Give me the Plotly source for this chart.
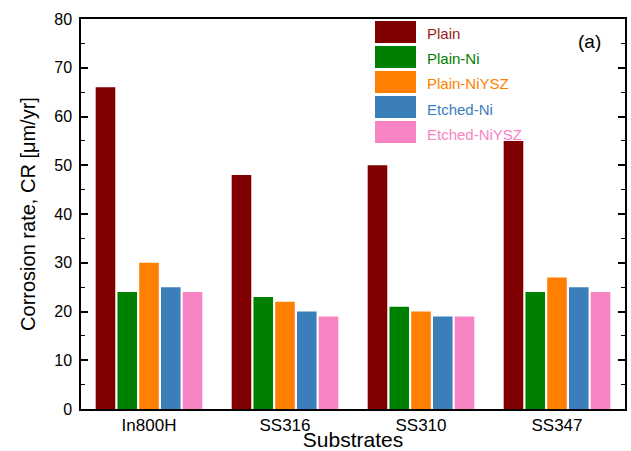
import plotly.graph_objects as go

substrates = ["In800H", "SS316", "SS310", "SS347"]
series_names = ["Plain", "Plain-Ni", "Plain-NiYSZ", "Etched-Ni", "Etched-NiYSZ"]
plain = [66, 48, 50, 55]
plain_ni = [24, 23, 21, 24]
plain_niysz = [30, 22, 20, 27]
etched_ni = [25, 20, 19, 25]
etched_niysz = [24, 19, 19, 24]
series_values = [plain, plain_ni, plain_niysz, etched_ni, etched_niysz]
colors = ["#800000", "#008000", "#ff8000", "#3a7eba", "#f883c3"]
text_colors = ["#9a1a1a", "#008000", "#ff8000", "#3a7eba", "#f883c3"]
y_ticks = [0, 10, 20, 30, 40, 50, 60, 70, 80]

FONT = "Liberation Sans, Arial, sans-serif"

fig = go.Figure()
for name, vals, col in zip(series_names, series_values, colors):
    fig.add_trace(go.Bar(x=substrates, y=vals, name=name, marker_color=col,
                         marker_line_width=0, showlegend=False))

# custom legend (large swatches as in the reference)
W, H = 631, 451
ml, mr, mt, mb = 81, 6, 19, 42
pw, ph = W - ml - mr, H - mt - mb
def px(x):
    return (x - ml) / pw
def py(y):
    return 1 - (y - mt) / ph

shapes = []
annotations = []
for i, (name, col, tcol) in enumerate(zip(series_names, colors, text_colors)):
    y0 = 21 + i * 25
    shapes.append(dict(type="rect", xref="paper", yref="paper",
                       x0=px(375), x1=px(416), y0=py(y0 + 22), y1=py(y0),
                       fillcolor=col, line=dict(width=0)))
    annotations.append(dict(xref="paper", yref="paper", x=px(425), y=py(y0 + 13),
                            text=name, showarrow=False, xanchor="left", yanchor="middle",
                            font=dict(family=FONT, size=15, color=tcol)))
annotations.append(dict(xref="paper", yref="paper", x=px(589), y=py(41), text="(a)",
                        showarrow=False, xanchor="center", yanchor="middle",
                        font=dict(family=FONT, size=19, color="black")))

fig.update_layout(
    width=W, height=H,
    margin=dict(l=ml, r=mr, t=mt, b=mb),
    plot_bgcolor="white", paper_bgcolor="white",
    barmode="group", bargap=0.2, bargroupgap=0.1,
    font=dict(family=FONT, color="black"),
    shapes=shapes, annotations=annotations,
)
fig.update_xaxes(
    automargin=False,
    showline=True, linecolor="black", linewidth=1.5, mirror=True,
    ticks="", showgrid=False,
    tickfont=dict(family=FONT, size=17, color="black"),
    title=dict(text="Substrates", font=dict(family=FONT, size=21, color="black"), standoff=0),
)
fig.update_yaxes(
    automargin=False,
    range=[0, 80], tickvals=y_ticks, showgrid=False, zeroline=False,
    showline=True, linecolor="black", linewidth=1.5, mirror="ticks",
    ticks="inside", ticklen=7, tickwidth=1.5, tickcolor="black",
    ticklabelstandoff=4,
    minor=dict(ticks="inside", ticklen=4, tickwidth=1.2, tickcolor="black", dtick=5),
    tickfont=dict(family=FONT, size=16, color="black"),
    title=dict(text="Corrosion rate, CR [μm/yr]", font=dict(family=FONT, size=20, color="black"), standoff=13),
)

fig.write_html("out.html", config={"displayModeBar": False},
               post_script="document.body.style.margin='0';")
